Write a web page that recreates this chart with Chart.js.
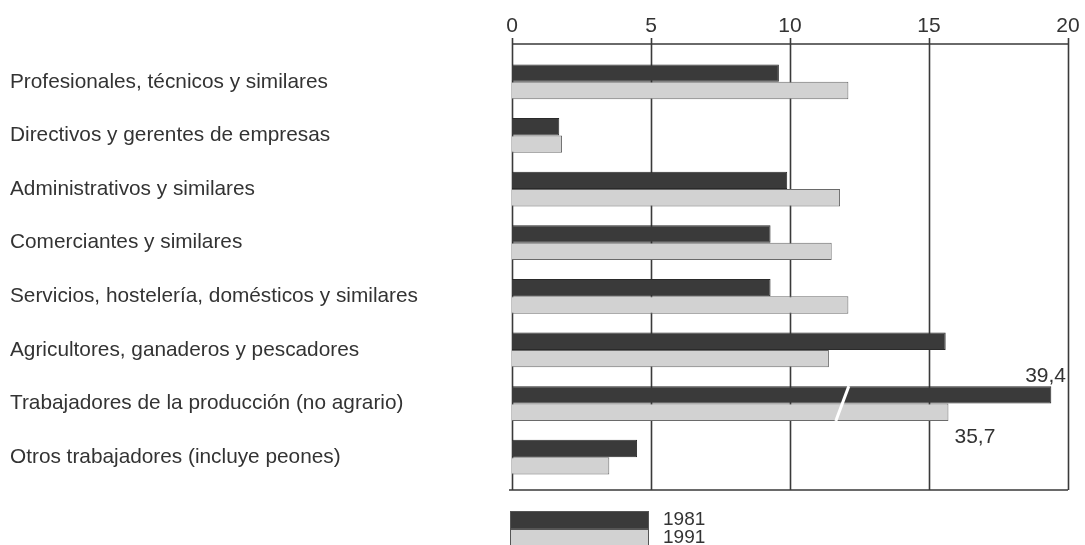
<!DOCTYPE html>
<html lang="es">
<head>
<meta charset="utf-8">
<title>Población ocupada por profesiones, 1981 y 1991</title>
<script src="https://cdn.jsdelivr.net/npm/chart.js@4"></script>
<style>
    html, body { margin: 0; padding: 0; background: #ffffff; }
    #contenedor { width: 1085px; height: 545px; position: relative; }
</style>
</head>
<body>
<div id="contenedor"><canvas id="graficoProfesiones"></canvas></div>
<script>
// ==========================================
// Datos
// ==========================================
const categorias = [
    'Profesionales, técnicos y similares',
    'Directivos y gerentes de empresas',
    'Administrativos y similares',
    'Comerciantes y similares',
    'Servicios, hostelería, domésticos y similares',
    'Agricultores, ganaderos y pescadores',
    'Trabajadores de la producción (no agrario)',
    'Otros trabajadores (incluye peones)'
];
const valores1981 = [9.6, 1.7, 9.9, 9.3, 9.3, 15.6, 39.4, 4.5];
const valores1991 = [12.1, 1.8, 11.8, 11.5, 12.1, 11.4, 35.7, 3.5];
const etiquetasEje = [0, 5, 10, 15, 20];

// Los valores mayores que el eje se dibujan con la barra "cortada"
const MAX_EJE = 20;
const CORTE = 20;      // unidades eliminadas en el corte
const POS_CORTE = 11.9; // donde se dibuja la marca del corte

const recortar = v => v > MAX_EJE ? v - CORTE : v;

const FUENTE = "'Liberation Sans', Arial, sans-serif";
const COLOR_TEXTO = '#333333';
const COLOR_OSCURO = '#3a3a3a';
const COLOR_CLARO = '#d2d2d2';
const COLOR_LINEA = '#3a3a3a';

// ==========================================
// Plugin: marco, rejilla, corte, etiquetas y leyenda
// ==========================================
const pluginMarco = {
    id: 'marco',
    beforeDatasetsDraw(chart) {
        const { ctx, chartArea, scales } = chart;
        const arriba = chartArea.top - 11;
        const abajo = chartArea.bottom + 6;
        ctx.save();
        ctx.strokeStyle = COLOR_LINEA;
        ctx.lineWidth = 1.6;
        etiquetasEje.forEach(v => {
            const x = Math.round(scales.x.getPixelForValue(v)) + 0.5;
            ctx.beginPath();
            ctx.moveTo(x, arriba - 6);
            ctx.lineTo(x, abajo);
            ctx.stroke();
        });
        const x0 = scales.x.getPixelForValue(0);
        const x1 = scales.x.getPixelForValue(MAX_EJE);
        ctx.beginPath();
        ctx.moveTo(x0, arriba); ctx.lineTo(x1, arriba);
        ctx.moveTo(x0 - 3, abajo); ctx.lineTo(x1, abajo);
        ctx.stroke();
        ctx.restore();
    },
    afterDatasetsDraw(chart) {
        const { ctx, chartArea, scales } = chart;
        ctx.save();
        ctx.font = `21px ${FUENTE}`;
        ctx.fillStyle = COLOR_TEXTO;

        // Barras cortadas: marca del corte y valor real
        categorias.forEach((c, i) => {
            const b81 = chart.getDatasetMeta(0).data[i];
            const b91 = chart.getDatasetMeta(1).data[i];
            if (valores1981[i] <= MAX_EJE && valores1991[i] <= MAX_EJE) return;
            const xa = scales.x.getPixelForValue(POS_CORTE);
            const sup = b81.y - b81.height / 2;
            const inf = b91.y + b91.height / 2;
            ctx.strokeStyle = '#ffffff';
            ctx.lineWidth = 3;
            ctx.beginPath();
            ctx.moveTo(xa - 7, inf);
            ctx.lineTo(xa + 6, sup);
            ctx.stroke();
            if (valores1981[i] > MAX_EJE) {
                ctx.textAlign = 'right';
                ctx.textBaseline = 'bottom';
                ctx.fillText(valores1981[i].toFixed(1).replace('.', ','), chartArea.right - 2, sup + 1);
            }
            if (valores1991[i] > MAX_EJE) {
                ctx.textAlign = 'left';
                ctx.textBaseline = 'top';
                ctx.fillText(valores1991[i].toFixed(1).replace('.', ','), b91.x + 6, inf + 6);
            }
        });

        // Leyenda abajo a la izquierda
        const xl = scales.x.getPixelForValue(0) - 2;
        const xr = scales.x.getPixelForValue(5) - 2;
        const yl = chartArea.bottom + 27;
        const alto = 18;
        chart.data.datasets.forEach((ds, k) => {
            ctx.fillStyle = ds.backgroundColor;
            ctx.strokeStyle = '#555555';
            ctx.lineWidth = 1;
            ctx.fillRect(xl, yl + k * alto, xr - xl, alto);
            ctx.strokeRect(xl + 0.5, yl + k * alto + 0.5, xr - xl - 1, alto - 1);
            ctx.fillStyle = COLOR_TEXTO;
            ctx.font = `19px ${FUENTE}`;
            ctx.textAlign = 'left';
            ctx.textBaseline = 'middle';
            ctx.fillText(ds.label, xr + 14, yl + k * alto + alto / 2);
        });
        ctx.restore();
    }
};

// ==========================================
// Gráfico de barras horizontales
// ==========================================
const grafico = new Chart(document.getElementById('graficoProfesiones'), {
    type: 'bar',
    data: {
        labels: categorias,
        datasets: [
            {
                label: '1981',
                data: valores1981.map(recortar),
                backgroundColor: COLOR_OSCURO,
                borderColor: '#2a2a2a',
                borderWidth: 1
            },
            {
                label: '1991',
                data: valores1991.map(recortar),
                backgroundColor: COLOR_CLARO,
                borderColor: '#6a6a6a',
                borderWidth: 1
            }
        ]
    },
    options: {
        indexAxis: 'y',
        responsive: true,
        maintainAspectRatio: false,
        animation: false,
        categoryPercentage: 0.65,
        barPercentage: 1.0,
        layout: { padding: { left: 10, right: 17, top: 0, bottom: 61 } },
        plugins: {
            legend: { display: false },
            tooltip: { enabled: false }
        },
        scales: {
            x: {
                position: 'top',
                min: 0,
                max: MAX_EJE,
                afterFit: s => { s.height = 55; s.paddingLeft = 0; s.paddingRight = 0; },
                afterBuildTicks: s => { s.ticks = etiquetasEje.map(v => ({ value: v })); },
                grid: { display: false, drawTicks: false },
                border: { display: false },
                ticks: {
                    color: COLOR_TEXTO,
                    font: { family: FUENTE, size: 21 },
                    padding: 16,
                    maxRotation: 0
                }
            },
            y: {
                afterFit: s => { s.width = 502; },
                grid: { display: false, drawTicks: false },
                border: { display: false },
                ticks: {
                    color: COLOR_TEXTO,
                    crossAlign: 'far',
                    font: { family: FUENTE, size: 20.8 },
                    padding: 0
                }
            }
        }
    },
    plugins: [pluginMarco]
});
</script>
</body>
</html>
